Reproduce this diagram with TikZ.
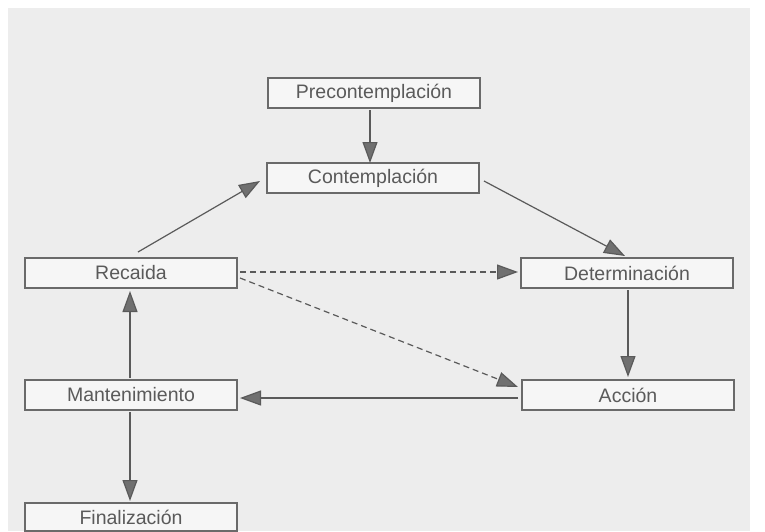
\documentclass[tikz,border=0pt]{standalone}
\usepackage{fontspec}
\setmainfont{Liberation Sans}
\usetikzlibrary{arrows.meta}
\definecolor{bg}{HTML}{EDEDED}
\definecolor{boxfill}{HTML}{F6F6F6}
\definecolor{edge}{HTML}{6A6A6A}
\definecolor{ink}{HTML}{5A5A5A}
\definecolor{tip}{HTML}{707070}
\tikzset{
  stagebox/.style={draw=edge, line width=1.2pt, fill=boxfill, minimum width=212pt, minimum height=30pt,
    inner sep=0pt, text=ink, font=\fontsize{19.5}{22}\selectfont},
  flow/.style={draw=ink, line width=1.2pt, -{Triangle[length=21pt,width=15pt,fill=tip]}},
  dflow/.style={flow, dash pattern=on 6pt off 4pt}
}
\begin{document}
\begin{tikzpicture}[x=1pt,y=-1pt]
\useasboundingbox (0,0) rectangle (765,531);
\fill[white] (0,0) rectangle (765,531);
\fill[bg] (8,8) rectangle (750,531);
\node[stagebox] (pre) at (374,93) {Precontemplación};
\node[stagebox] (con) at (373,178) {Contemplación};
\node[stagebox] (rec) at (131,273) {Recaida};
\node[stagebox] (det) at (627,273) {Determinación};
\node[stagebox] (man) at (131,395) {Mantenimiento};
\node[stagebox] (acc) at (628,395) {Acción};
\node[stagebox, minimum height=28pt] (fin) at (131,517) {Finalización};
\coordinate (preb) at (370,110);
\coordinate (cont) at (370,163);
\draw[flow] (preb) -- (cont);
\coordinate (recs) at (138,252);
\coordinate (conl) at (260,181);
\draw[flow] (recs) -- (conl);
\coordinate (conr) at (484,181);
\coordinate (dett) at (625,256);
\draw[flow] (conr) -- (dett);
\coordinate (recr1) at (240,272);
\coordinate (detl) at (518,272);
\draw[dflow] (recr1) -- (detl);
\coordinate (recr2) at (240,278);
\coordinate (accl1) at (518,387);
\draw[dflow] (recr2) -- (accl1);
\coordinate (detb) at (628,290);
\coordinate (acct) at (628,377);
\draw[flow] (detb) -- (acct);
\coordinate (accl2) at (518,398);
\coordinate (manr) at (240,398);
\draw[flow] (accl2) -- (manr);
\coordinate (mant) at (130,378);
\coordinate (recb) at (130,291);
\draw[flow] (mant) -- (recb);
\coordinate (manb) at (130,412);
\coordinate (fint) at (130,501);
\draw[flow] (manb) -- (fint);
\end{tikzpicture}
\end{document}
